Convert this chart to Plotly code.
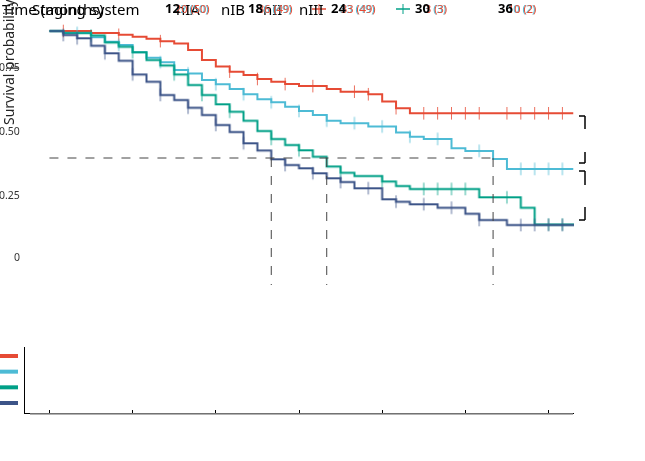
import plotly.graph_objects as go

W, H = 645, 461

# ---------------- data ----------------
groups = ["IA", "IB", "II", "III"]
colors = ["#E64B35", "#4DBBD5", "#00A087", "#3C5488"]

t_IA = [0, 3, 5, 6, 7, 8, 9, 10, 11, 12, 13, 14, 15, 16, 17, 18, 20, 21, 23, 24, 25, 26]
s_IA = [1.0, 0.992, 0.985, 0.977, 0.969, 0.960, 0.951, 0.925, 0.886, 0.860, 0.840, 0.827,
        0.811, 0.800, 0.791, 0.783, 0.772, 0.761, 0.751, 0.722, 0.696, 0.676]
c_IA = [1, 5, 8, 13, 15, 17, 19, 22, 23, 25, 27, 28, 29, 30, 31, 33, 34, 35, 36, 37]

t_IB = [0, 1, 3, 4, 5, 6, 7, 8, 9, 10, 11, 12, 13, 14, 15, 16, 17, 18, 19, 20, 21, 23,
        25, 26, 27, 29, 30, 32, 33]
s_IB = [1.0, 0.992, 0.975, 0.958, 0.945, 0.916, 0.895, 0.877, 0.846, 0.833, 0.807, 0.790,
        0.772, 0.751, 0.731, 0.719, 0.702, 0.685, 0.669, 0.647, 0.637, 0.624, 0.600, 0.584,
        0.575, 0.538, 0.528, 0.496, 0.457]
c_IB = [2, 5, 8, 10, 12, 14, 16, 18, 20, 22, 24, 26, 28, 31, 34, 35, 36, 37]

t_II = [0, 1, 3, 4, 5, 6, 7, 8, 9, 10, 11, 12, 13, 14, 15, 16, 17, 18, 19, 20, 21, 22,
        24, 25, 26, 31, 34, 35]
s_II = [1.0, 0.992, 0.982, 0.955, 0.938, 0.916, 0.886, 0.864, 0.829, 0.787, 0.748, 0.711,
        0.682, 0.646, 0.606, 0.575, 0.551, 0.530, 0.505, 0.466, 0.442, 0.429, 0.407, 0.390,
        0.378, 0.345, 0.304, 0.238]
c_II = [3, 6, 9, 11, 13, 16, 18, 21, 24, 27, 28, 29, 30, 33, 36, 37]

t_III = [0, 1, 2, 3, 4, 5, 6, 7, 8, 9, 10, 11, 12, 13, 14, 15, 16, 17, 18, 19, 20, 21,
         22, 24, 25, 26, 28, 30, 31, 33]
s_III = [1.0, 0.984, 0.971, 0.942, 0.912, 0.883, 0.829, 0.800, 0.748, 0.728, 0.698, 0.669,
         0.630, 0.602, 0.558, 0.529, 0.495, 0.472, 0.459, 0.440, 0.420, 0.405, 0.381, 0.337,
         0.328, 0.318, 0.304, 0.280, 0.256, 0.236]
c_III = [1, 2, 4, 6, 8, 10, 12, 14, 17, 19, 21, 23, 25, 27, 29, 31, 34, 35, 36, 37]

medians = [None, 32, 20, 16]
t_end = 37.8

tick_months = [12, 18, 24, 30, 36]
risk_a = ["22 (50)", "36 (49)", "33 (49)", "3 (3)", "10 (2)"]
risk_b = ["20 (50)", "36 (49)", "33 (49)", "3 (3)", "10 (2)"]
legend_labels = ["nIA", "nIB", "nII", "nIII"]
y_tick_labels = ["0", "0.25", "0.50", "0.75"]

series = [(t_IA, s_IA, c_IA), (t_IB, s_IB, c_IB), (t_II, s_II, c_II), (t_III, s_III, c_III)]


def surv_at(t, s, x):
    v = s[0]
    for ti, si in zip(t, s):
        if ti <= x:
            v = si
    return v


def px(x):
    return x / W


def py(y):
    return 1 - y / H


fig = go.Figure()

for (t, s, c), col, g in zip(series, colors, groups):
    fig.add_trace(go.Scatter(x=t + [t_end], y=s + [s[-1]], mode="lines",
                             line=dict(color=col, width=2, shape="hv"),
                             showlegend=False, xaxis="x", yaxis="y", name=g))
    fig.add_trace(go.Scatter(x=c, y=[surv_at(t, s, v) for v in c], mode="markers",
                             marker=dict(symbol="line-ns", size=9,
                                         line=dict(color=col, width=1)),
                             opacity=0.8, showlegend=False, xaxis="x", yaxis="y"))

# median lines
mvals = [m for m in medians if m is not None]
fig.add_trace(go.Scatter(x=[0, max(mvals)], y=[0.5, 0.5], mode="lines",
                         line=dict(color="#444", width=1, dash="dash"),
                         showlegend=False, xaxis="x", yaxis="y"))
for m in mvals:
    fig.add_trace(go.Scatter(x=[m, m], y=[0.5, 0], mode="lines",
                             line=dict(color="#444", width=1, dash="dash"),
                             showlegend=False, xaxis="x", yaxis="y"))

# risk table axis (empty)
fig.add_trace(go.Scatter(x=[0], y=[1], mode="markers", marker=dict(opacity=0),
                         showlegend=False, xaxis="x2", yaxis="y2", hoverinfo="skip"))

xdom = [24.5 / W, 573.5 / W]
fig.update_layout(
    width=W, height=H, margin=dict(l=0, r=0, t=0, b=0),
    paper_bgcolor="white", plot_bgcolor="white",
    font=dict(family="Noto Sans", color="black"),
    xaxis=dict(domain=xdom, range=[-1.8, 37.8], visible=False),
    yaxis=dict(domain=[py(297.7), py(18.3)], range=[-0.05, 1.05], visible=False),
    xaxis2=dict(domain=xdom, range=[-1.8, 37.8], anchor="y2", showline=True,
                linecolor="black", linewidth=1, showgrid=False, zeroline=False,
                tickvals=[0, 6, 12, 18, 24, 30, 36], ticks="inside", ticklen=3,
                tickcolor="black", showticklabels=False),
    yaxis2=dict(domain=[py(413), py(347)], range=[0.362, 4.574], anchor="x2",
                showline=True, linecolor="black", linewidth=1, showgrid=False,
                zeroline=False, showticklabels=False, ticks=""),
)

shapes = []
# colored row bars in risk table
for i, col in enumerate(colors):
    shapes.append(dict(type="line", xref="paper", yref="y2", x0=0, x1=px(18),
                       y0=4 - i, y1=4 - i, line=dict(color=col, width=4)))
# gray baseline
shapes.append(dict(type="line", xref="paper", yref="paper", x0=px(30), x1=px(573),
                   y0=py(414), y1=py(414), line=dict(color="#999", width=1.5)))
# brackets
br = [(116, 129, "down"), (152, 163, "up"), (171, 185, "down"), (207, 220, "up")]
for y0, y1, kind in br:
    shapes.append(dict(type="line", xref="paper", yref="paper", x0=px(585), x1=px(585),
                       y0=py(y0), y1=py(y1), line=dict(color="black", width=1.5)))
    yh = y0 if kind == "down" else y1
    shapes.append(dict(type="line", xref="paper", yref="paper", x0=px(579), x1=px(585),
                       y0=py(yh), y1=py(yh), line=dict(color="black", width=1.5)))
# legend keys
for xk, col in [(319, colors[0]), (403, colors[2])]:
    shapes.append(dict(type="line", xref="paper", yref="paper", x0=px(xk - 7),
                       x1=px(xk + 7), y0=py(9), y1=py(9), line=dict(color=col, width=1.5)))
    shapes.append(dict(type="line", xref="paper", yref="paper", x0=px(xk), x1=px(xk),
                       y0=py(4), y1=py(14), line=dict(color=col, width=1)))
fig.update_layout(shapes=shapes)

ann = []


def text(x, y, s, size=14, color="black", anchor="left", bold=False, angle=0):
    ann.append(dict(x=px(x), y=py(y), xref="paper", yref="paper",
                    text=("<b>%s</b>" % s) if bold else s,
                    showarrow=False, xanchor=anchor, yanchor="middle", textangle=angle,
                    font=dict(size=size, color=color)))


text(0, 9, "Time (months)", 15)
text(30, 9, "Staging system", 15)
for lab, xl in zip(legend_labels, [174, 219, 261, 297]):
    text(xl, 9, lab, 15)
for m, ra, rb, xo in zip(tick_months, risk_a, risk_b, [163, 246, 329, 413, 496]):
    text(xo + 9, 8, ra, 11, colors[1])
    text(xo + 10, 8, rb, 11, colors[0])
    text(xo, 8, str(m), 13, bold=True)

# y tick labels
for lab, yl in zip(y_tick_labels, [257, 195, 131, 67]):
    text(22, yl, lab, 10.5, "#333", anchor="right")
text(8, 62, "Survival probability", 14, "#222", anchor="center", angle=-90)

fig.update_layout(annotations=ann)
fig.write_html("out.html", config={"displayModeBar": False},
               post_script="document.body.style.margin='0';document.body.style.padding='0';")
